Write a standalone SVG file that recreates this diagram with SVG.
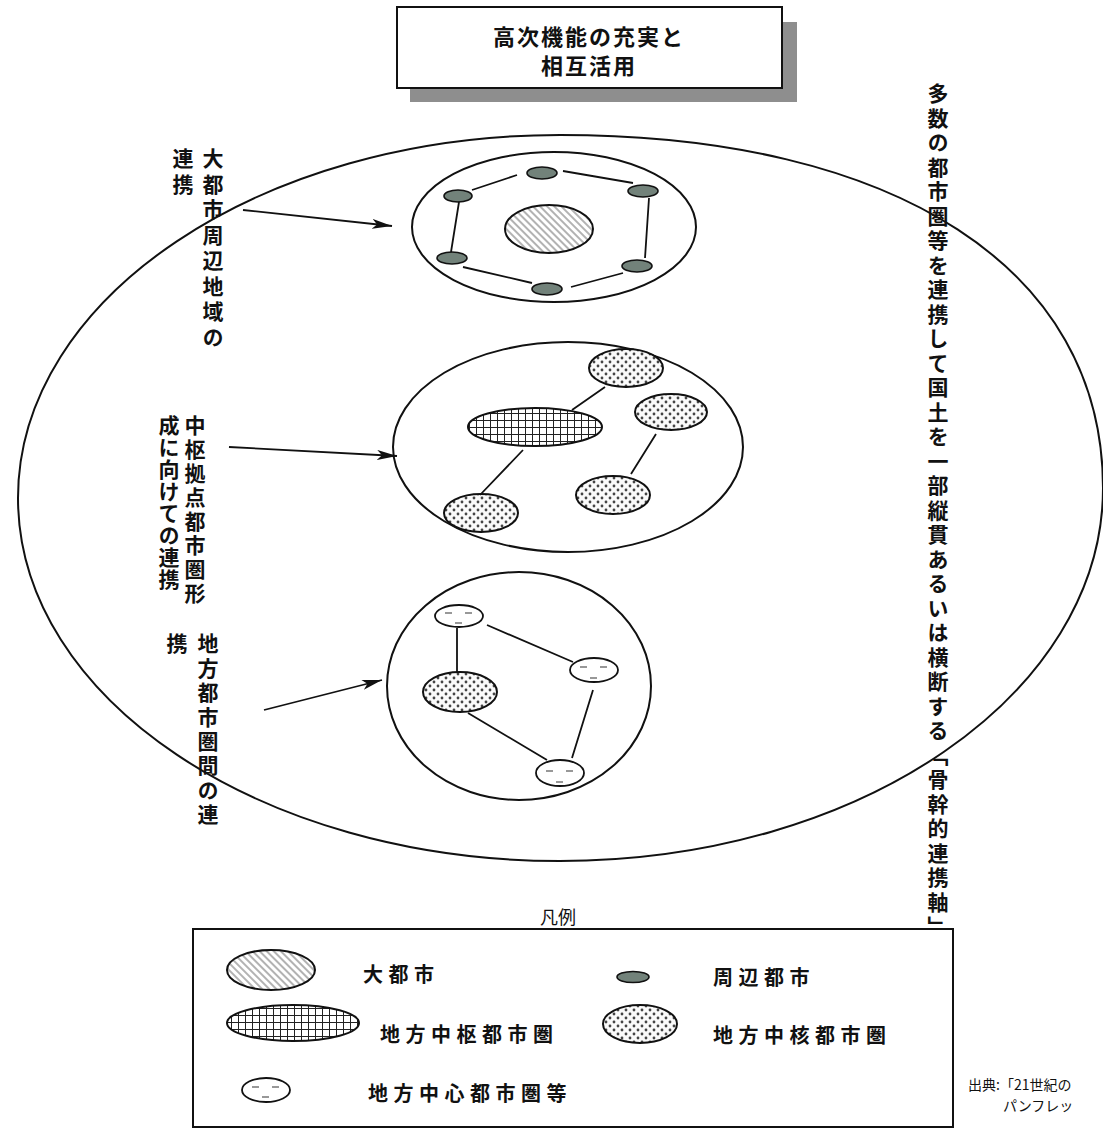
<svg xmlns="http://www.w3.org/2000/svg" width="1103" height="1129" viewBox="0 0 1103 1129">
<style>
.ol{fill:none;stroke:#111;stroke-width:2}
.ln{stroke:#111;stroke-width:1.8;fill:none}
.sm{fill:#72827a;stroke:#111;stroke-width:1.6}
.ht{fill:url(#hatch);stroke:#111;stroke-width:2}
.gr{fill:url(#grid);stroke:#111;stroke-width:2}
.dt{fill:url(#dots);stroke:#111;stroke-width:2}
.fc{fill:#fff;stroke:#111;stroke-width:1.8}
.fd{stroke:#777;stroke-width:1.6}
.t{font-family:"Noto Sans CJK JP","Noto Sans CJK SC",sans-serif;fill:#111}
.v{writing-mode:vertical-rl;font-weight:bold;font-size:21px}
.lg{font-size:20px;letter-spacing:5.5px;font-weight:bold}
</style>
<defs>
<pattern id="hatch" patternUnits="userSpaceOnUse" width="5" height="5" patternTransform="rotate(-45)">
<rect width="5" height="5" fill="#fff"/><line x1="1" y1="0" x2="1" y2="5" stroke="#666" stroke-width="1"/>
</pattern>
<pattern id="grid" patternUnits="userSpaceOnUse" width="7" height="7">
<rect width="7" height="7" fill="#fff"/><path d="M0 0.5H7M0.5 0V7" stroke="#222" stroke-width="1"/>
</pattern>
<pattern id="dots" patternUnits="userSpaceOnUse" width="8" height="8">
<rect width="8" height="8" fill="#fafafa"/><circle cx="2" cy="2" r="1.4" fill="#444"/><circle cx="6" cy="6" r="1.4" fill="#444"/>
</pattern>
<marker id="ah" viewBox="0 0 20 10" refX="20" refY="5" markerWidth="20" markerHeight="10" markerUnits="userSpaceOnUse" orient="auto">
<path d="M0 0L20 5L0 10L5 5z" fill="#111"/>
</marker>
</defs>

<g id="title">
<rect x="410" y="22" width="387" height="80" fill="#8e8e8e"/>
<rect x="397" y="7" width="385" height="81" fill="#fff" stroke="#111" stroke-width="2"/>
<text class="t" x="589" y="45" text-anchor="middle" font-size="22" font-weight="bold" letter-spacing="2">高次機能の充実と</text>
<text class="t" x="589" y="74" text-anchor="middle" font-size="22" font-weight="bold" letter-spacing="2">相互活用</text>
</g>

<g id="national-frame">
<path class="ol" d="M18 498C18 297.5 260.7 135 560 135C896 135 1103 269 1103 488C1103 694 860 861 560 861C260.7 861 18 698.5 18 498Z"/>
</g>

<g id="metro-cluster">
<ellipse class="ol" cx="554" cy="227" rx="142" ry="75"/>
<ellipse class="ht" cx="549" cy="229" rx="44" ry="24"/>
<ellipse class="sm" cx="542" cy="173" rx="15" ry="6"/>
<ellipse class="sm" cx="458" cy="196" rx="14" ry="6"/>
<ellipse class="sm" cx="643" cy="191" rx="15" ry="6"/>
<ellipse class="sm" cx="452" cy="258" rx="15" ry="6"/>
<ellipse class="sm" cx="637" cy="266" rx="15" ry="6"/>
<ellipse class="sm" cx="547" cy="289" rx="15" ry="6"/>
</g>

<g id="hub-cluster">
<ellipse class="ol" cx="568" cy="447" rx="175" ry="105"/>
<ellipse class="gr" cx="535" cy="427" rx="67" ry="19"/>
<ellipse class="dt" cx="626" cy="368" rx="37" ry="19"/>
<ellipse class="dt" cx="671" cy="412" rx="36" ry="18"/>
<ellipse class="dt" cx="613" cy="495" rx="37" ry="19"/>
<ellipse class="dt" cx="481" cy="513" rx="37" ry="19"/>
</g>

<g id="regional-cluster">
<ellipse class="ol" cx="519" cy="686" rx="132" ry="114"/>
<ellipse class="dt" cx="460" cy="692" rx="37" ry="20"/>
<g id="face1"><ellipse class="fc" cx="459" cy="616" rx="24" ry="11"/><path class="fd" d="M445 613h7M465 613h7M455 623h7"/></g>
<g id="face2"><ellipse class="fc" cx="594" cy="670" rx="24" ry="12"/><path class="fd" d="M580 667h7M600 667h7M590 678h7"/></g>
<g id="face3"><ellipse class="fc" cx="560" cy="773" rx="24" ry="13"/><path class="fd" d="M546 771h7M566 771h7M556 782h7"/></g>
</g>

<g id="connectors">
<path class="ln" d="M472 190L517 175M563 171L633 183M459 202L451 252M649 198L645 258M463 267L532 283M571 287L623 273"/>
<path class="ln" d="M572 410L605 387M656 434L631 474M523 450L480 495"/>
<path class="ln" d="M457 628V673M487 625L573 662M593 690L572 758M468 713L547 760"/>
<path class="ln" d="M243 210L392 226" marker-end="url(#ah)"/>
<path class="ln" d="M229 447L397 456" marker-end="url(#ah)"/>
<path class="ln" d="M264 710L382 680" marker-end="url(#ah)"/>
</g>

<g id="label-metro">
<text class="t v" x="213" y="148" letter-spacing="4.5">大都市周辺地域の</text>
<text class="t v" x="183" y="148" letter-spacing="4.5">連携</text>
</g>
<g id="label-hub">
<text class="t v" x="195" y="415" letter-spacing="2.9">中枢拠点都市圏形</text>
<text class="t v" x="169" y="415" letter-spacing="1">成に向けての連携</text>
</g>
<g id="label-regional">
<text class="t v" x="208" y="633" letter-spacing="3.4">地方都市圏間の連</text>
<text class="t v" x="177" y="633" letter-spacing="3.4">携</text>
</g>
<g id="label-axis">
<text class="t v" x="938" y="83" letter-spacing="3.5">多数の都市圏等を連携して国土を一部縦貫あるいは横断する「骨幹的連携軸」</text>
</g>

<g id="legend">
<text class="t" x="558" y="924" text-anchor="middle" font-size="18">凡例</text>
<rect x="193" y="929" width="760" height="198" fill="none" stroke="#111" stroke-width="2"/>
<ellipse class="ht" cx="271" cy="970" rx="44" ry="20"/>
<text class="t lg" x="363" y="982">大都市</text>
<ellipse class="sm" cx="633" cy="977" rx="16" ry="5.5"/>
<text class="t lg" x="713" y="985">周辺都市</text>
<ellipse class="gr" cx="293" cy="1023" rx="66" ry="18"/>
<text class="t lg" x="380" y="1042">地方中枢都市圏</text>
<ellipse class="dt" cx="640" cy="1024" rx="37" ry="19"/>
<text class="t lg" x="713" y="1043">地方中核都市圏</text>
<g><ellipse class="fc" cx="266" cy="1090" rx="24" ry="12"/><path class="fd" d="M252 1087h7M272 1087h7M262 1097h7"/></g>
<text class="t lg" x="368" y="1101">地方中心都市圏等</text>
</g>

<g id="source">
<text class="t" x="968" y="1090" font-size="14">出典:「21世紀の</text>
<text class="t" x="1003" y="1111" font-size="14">パンフレッ</text>
</g>
</svg>
